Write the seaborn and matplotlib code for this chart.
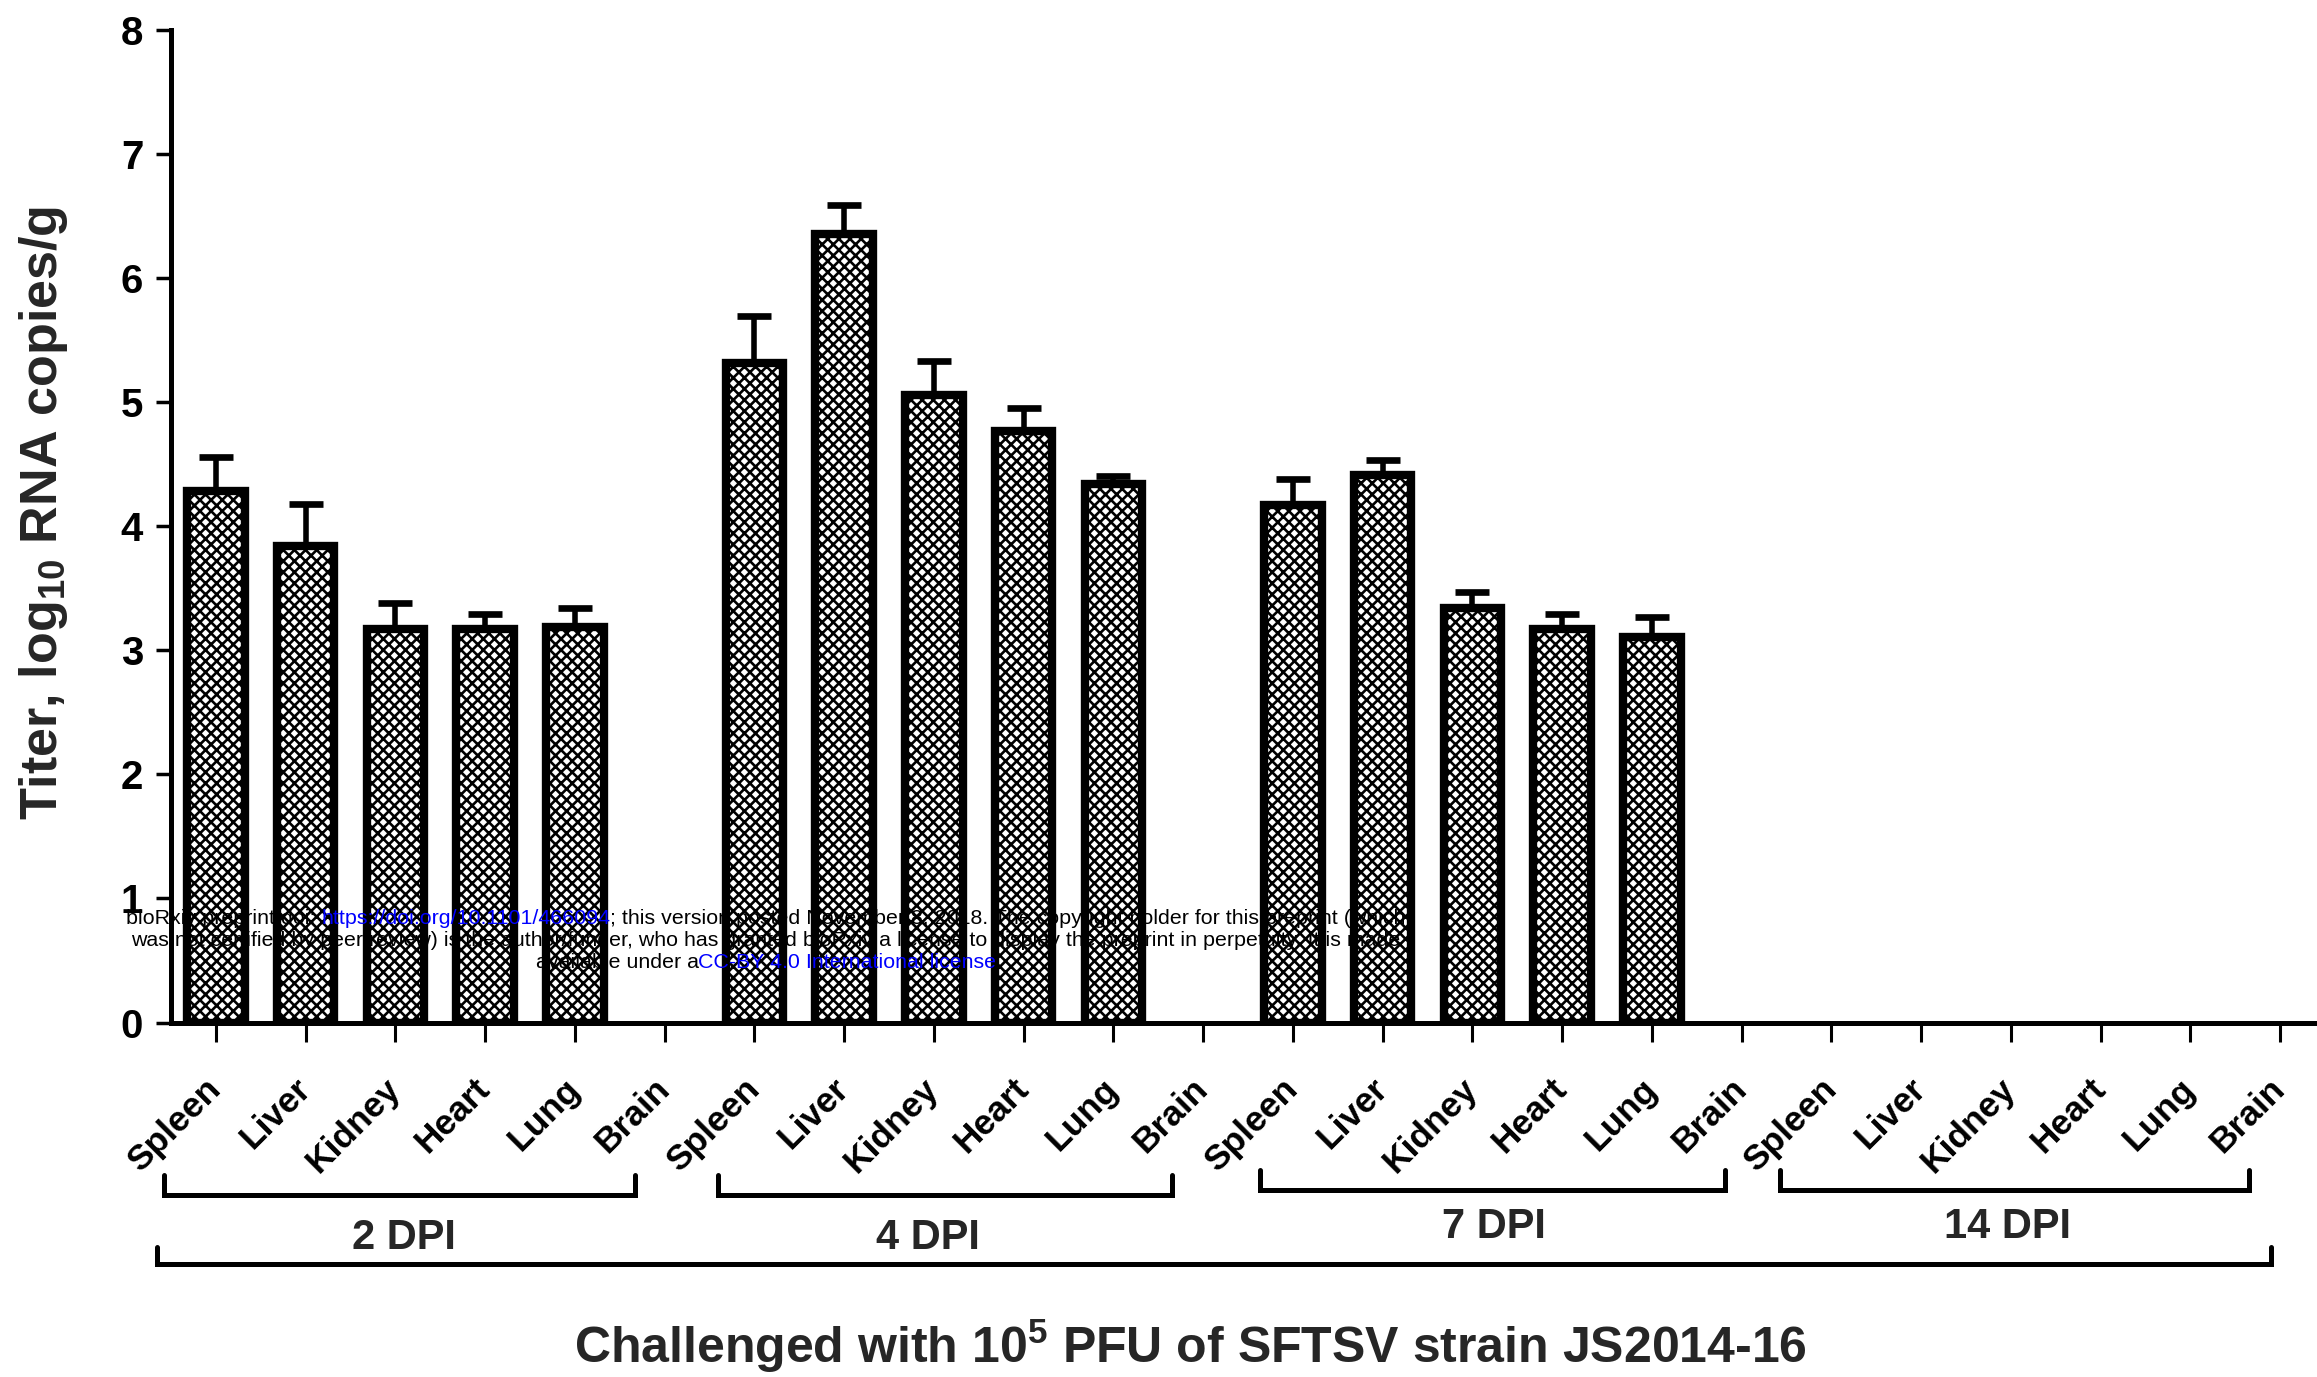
import numpy as np
import pandas as pd
import matplotlib
matplotlib.use("Agg")
import matplotlib.pyplot as plt
import matplotlib.transforms as mtransforms
import seaborn as sns

# ---- data -------------------------------------------------------------
organs = ["Spleen", "Liver", "Kidney", "Heart", "Lung", "Brain"]
days = ["2 DPI", "4 DPI", "7 DPI", "14 DPI"]

titer_2dpi = [4.28, 3.84, 3.17, 3.17, 3.19, 0.0]
err_2dpi = [0.28, 0.34, 0.21, 0.12, 0.15, 0.0]
titer_4dpi = [5.31, 6.35, 5.06, 4.77, 4.34, 0.0]
err_4dpi = [0.38, 0.24, 0.27, 0.18, 0.06, 0.0]
titer_7dpi = [4.17, 4.41, 3.34, 3.17, 3.11, 0.0]
err_7dpi = [0.21, 0.12, 0.13, 0.12, 0.16, 0.0]
titer_14dpi = [0.0, 0.0, 0.0, 0.0, 0.0, 0.0]
err_14dpi = [0.0, 0.0, 0.0, 0.0, 0.0, 0.0]

y_ticks = [0, 1, 2, 3, 4, 5, 6, 7, 8]

titers = [titer_2dpi, titer_4dpi, titer_7dpi, titer_14dpi]
errors = [err_2dpi, err_4dpi, err_7dpi, err_14dpi]

rows = []
for day, tv, ev in zip(days, titers, errors):
    for organ, t, e in zip(organs, tv, ev):
        rows.append({"slot": f"{day} {organ}", "day": day, "organ": organ,
                     "titer": t, "err": e})
df = pd.DataFrame(rows)
slots = list(df["slot"])

# ---- style ------------------------------------------------------------
sns.set_style("ticks")
plt.rcParams["font.family"] = ["Liberation Sans", "DejaVu Sans"]
plt.rcParams["mathtext.default"] = "regular"
plt.rcParams["hatch.linewidth"] = 1.9

W, H = 2317, 1377
fig = plt.figure(figsize=(W / 100, H / 100), dpi=100)
step = 89.75
ax = fig.add_axes([171 / W, 1 - 1022.6 / H, 24 * step / W, 993 / H])

sns.barplot(data=df, x="slot", y="titer", order=slots, color="white",
            width=0.64, edgecolor="black", linewidth=6, errorbar=None,
            hatch="xxx", ax=ax)
for p in ax.patches:
    if p.get_height() <= 0:
        p.set_visible(False)

pos = np.arange(len(df))
mask = df["titer"].to_numpy() > 0
ax.errorbar(pos[mask], df["titer"].to_numpy()[mask],
            yerr=[np.zeros(mask.sum()), df["err"].to_numpy()[mask]],
            fmt="none", ecolor="black", elinewidth=4.0, capsize=12,
            capthick=4.8, zorder=1)

ax.set_xlim(-0.5, 23.5)
ax.set_ylim(0, 8)
ax.set_yticks(y_ticks)
ax.set_yticklabels([str(v) for v in y_ticks], fontsize=29, fontweight="bold")
ax.set_xticks(pos)
ax.set_xticklabels(df["organ"], rotation=45, ha="right", va="center",
                   rotation_mode="anchor", fontsize=25.5, fontweight="bold")
ax.tick_params(axis="x", length=14, width=2.2, pad=30, colors="black")
ax.tick_params(axis="y", length=11, width=2.5, pad=9, colors="black")
ax.set_xlabel("")
ax.set_ylabel("")
for side in ["top", "right"]:
    ax.spines[side].set_visible(False)
for side in ["left", "bottom"]:
    ax.spines[side].set_linewidth(3.6)
    ax.spines[side].set_color("black")

# ---- group brackets under the axis ------------------------------------
tr = mtransforms.blended_transform_factory(ax.transData, fig.transFigure)
brackets = [(-0.58, 4.67, 0.1467, 0.1322, 2.09, 0.1010),
            (5.60, 10.65, 0.1467, 0.1322, 7.93, 0.1010),
            (11.63, 16.82, 0.1503, 0.1358, 14.24, 0.1089),
            (17.43, 22.65, 0.1503, 0.1358, 19.96, 0.1089)]
for (x0, x1, ytip, ybase, xl, yl), day in zip(brackets, days):
    ax.plot([x0, x0, x1, x1], [ytip, ybase, ybase, ytip], color="black",
            lw=3.6, transform=tr, clip_on=False, solid_joinstyle="miter")
    ax.text(xl, yl, day, transform=tr, ha="center", va="center",
            fontsize=30, fontweight="bold")
ax.plot([-0.66, -0.66, 22.90, 22.90], [0.0944, 0.0821, 0.0821, 0.0944],
        color="black", lw=3.6, transform=tr, clip_on=False,
        solid_joinstyle="miter")

fig.text(1190 / W, 1 - 1363 / H,
         "Challenged with 10$^{5}$ PFU of SFTSV strain JS2014-16",
         ha="center", va="baseline", fontsize=36, fontweight="bold")
fig.text(44 / W, 1 - 513 / H, "Titer, log$_{10}$ RNA copies/g",
         rotation=90, ha="center", va="center", fontsize=37.5,
         fontweight="bold")

# ---- preprint notice --------------------------------------------------
notice = [
    [("bioRxiv preprint doi: ", "black"),
     ("https://doi.org/10.1101/466094", "blue"),
     ("; this version posted November 8, 2018. The copyright holder for this preprint (which", "black")],
    [("was not certified by peer review) is the author/funder, who has granted bioRxiv a license to display the preprint in perpetuity. It is made", "black")],
    [("available under a", "black"), ("CC-BY 4.0 International license", "blue")],
]
notice_y = [919, 940, 962]
renderer = fig.canvas.get_renderer()
nfs = 15.4


def seg_width(s):
    t = fig.text(0, 0, s + "|", fontsize=nfs)
    bar = fig.text(0, 0, "|", fontsize=nfs)
    w = t.get_window_extent(renderer).width - bar.get_window_extent(renderer).width
    t.remove()
    bar.remove()
    return w


for segs, yp in zip(notice, notice_y):
    widths = [seg_width(s) for s, _ in segs]
    x = 766 - sum(widths) / 2
    for (s, c), w in zip(segs, widths):
        fig.text(x / W, 1 - yp / H, s, color=c, fontsize=nfs,
                 ha="left", va="center", zorder=10)
        x += w

fig.savefig("out.png", dpi=100)
